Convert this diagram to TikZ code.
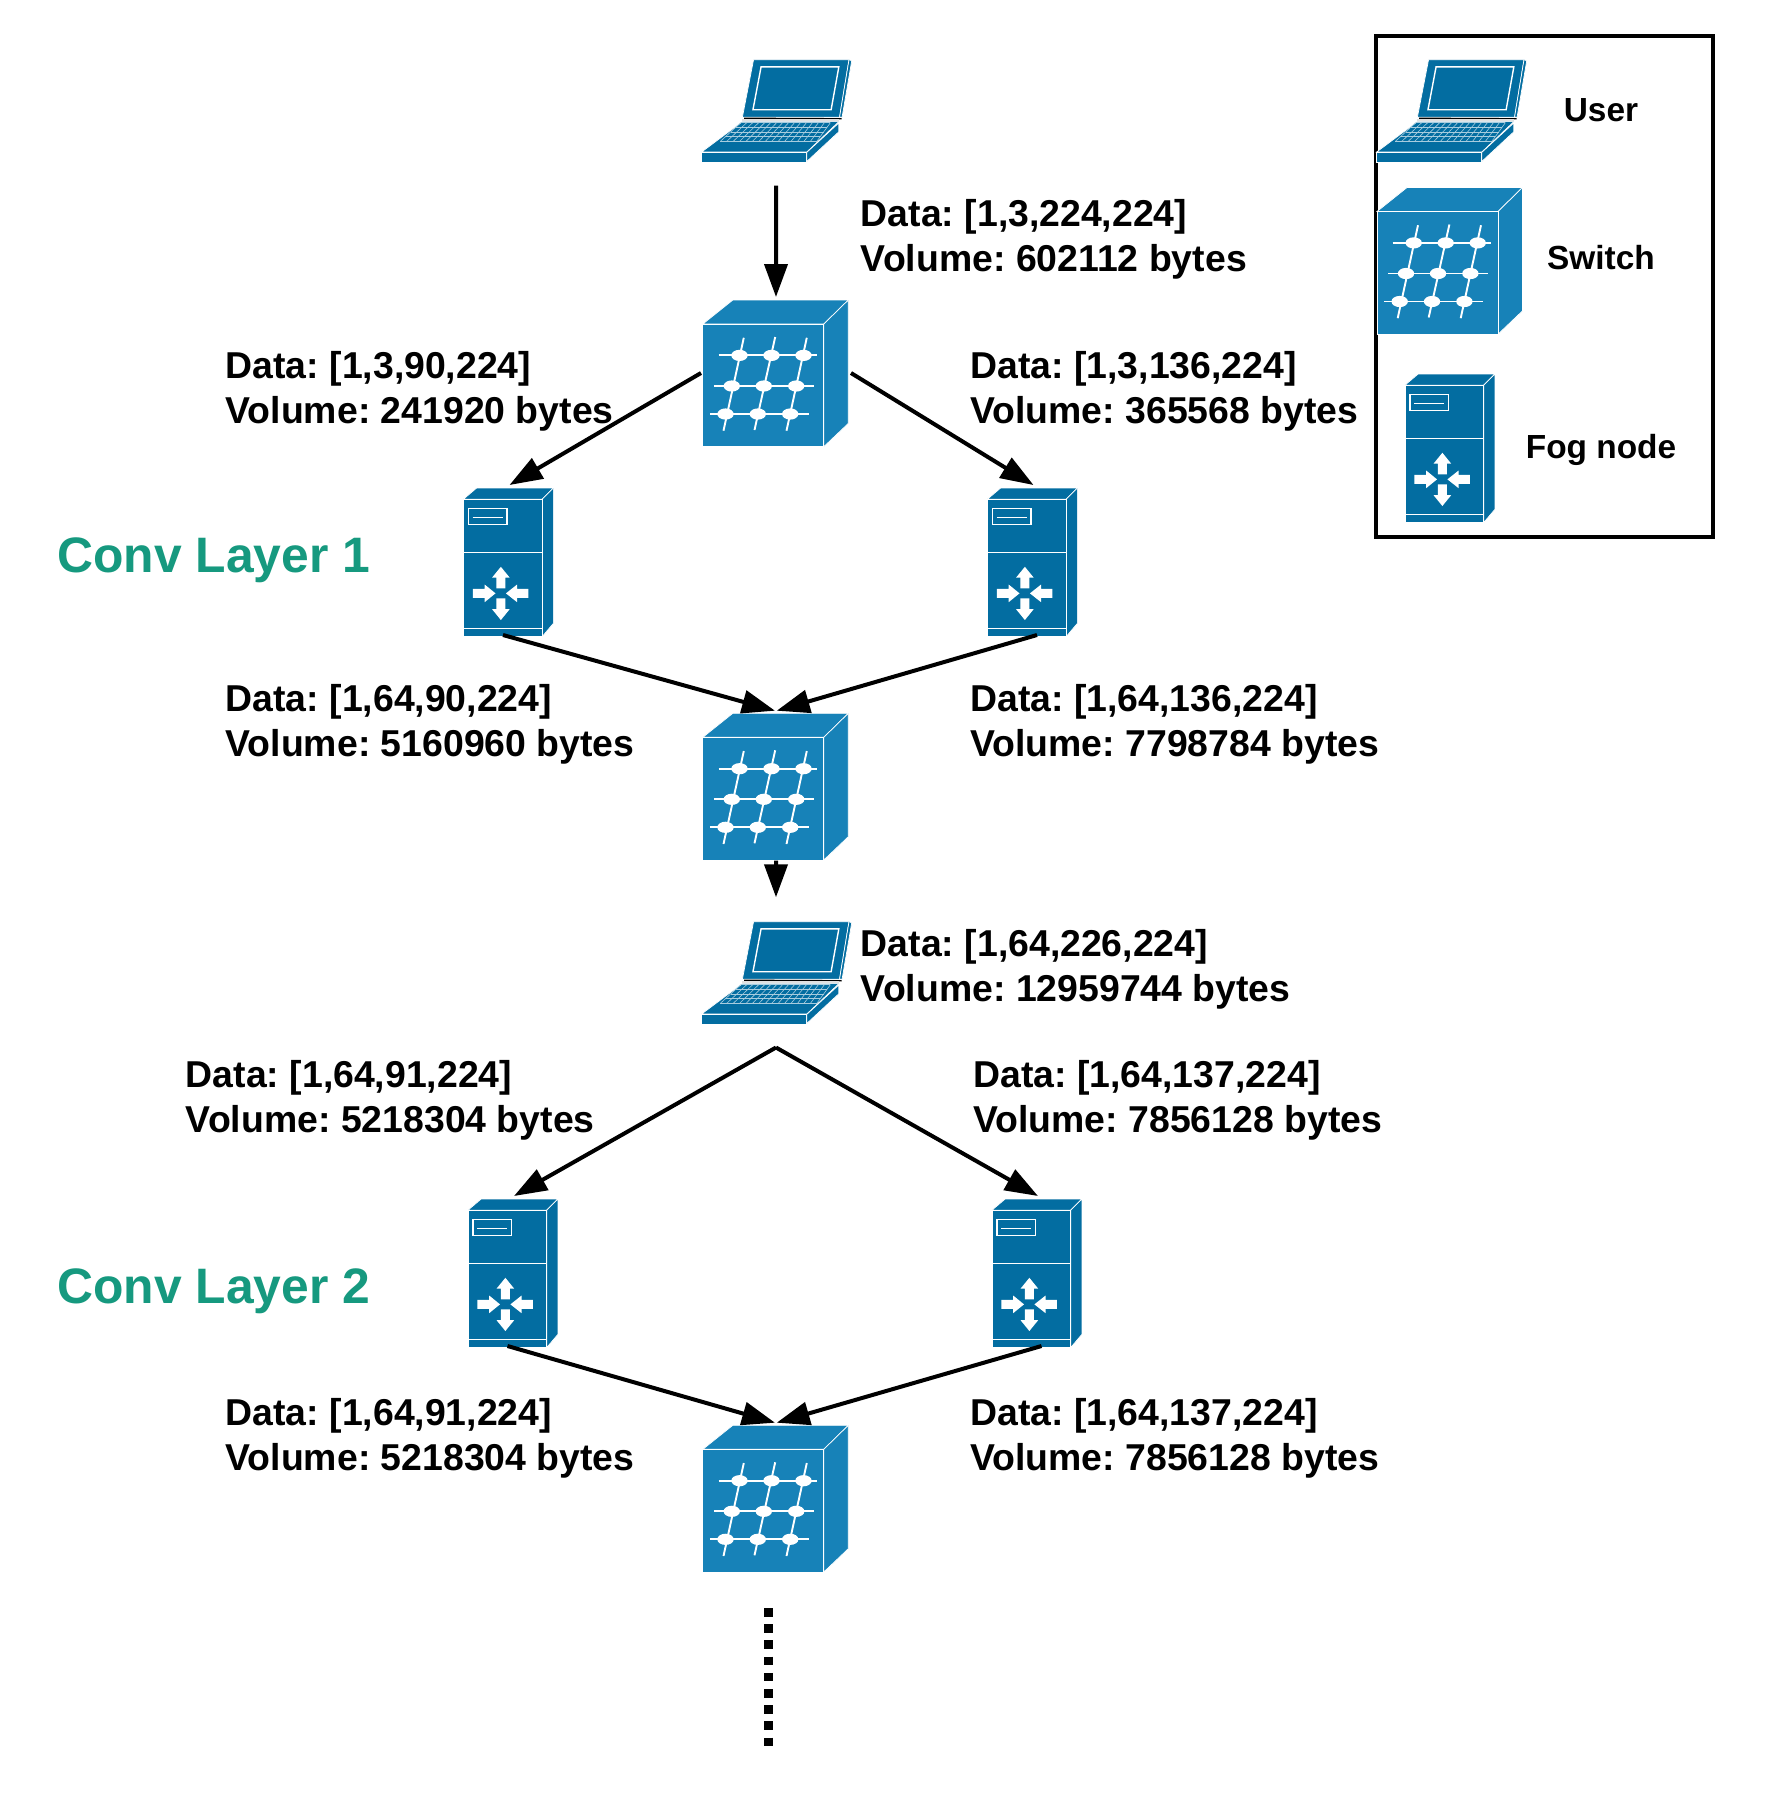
\documentclass[tikz,border=0pt]{standalone}
\usepackage{fontspec}
\setmainfont{Liberation Sans}
\usetikzlibrary{arrows.meta}
\definecolor{fogblue}{HTML}{036DA1}
\definecolor{swblue}{HTML}{1782B8}
\definecolor{layergreen}{HTML}{16997F}
\tikzset{
  x=0.5pt,y=-0.5pt,
  iconfog/.style={fill=fogblue,draw=white,line width=0.35pt,line join=miter},
  iconsw/.style={fill=swblue,draw=white,line width=0.35pt,line join=miter},
  whiteline/.style={draw=white,line width=0.7pt},
  gridline/.style={draw=white,line width=0.95pt},
  conn/.style={draw=black,line width=2pt,-{Triangle[length=16.5pt,width=11.5pt]}},
  infotext/.style={anchor=west,align=left,inner sep=0pt,font=\frenchspacing\fontsize{18.7}{22.5}\selectfont\bfseries},
  legendtext/.style={anchor=center,inner sep=0pt,font=\fontsize{16.7}{20}\selectfont\bfseries},
  layertext/.style={anchor=west,inner sep=0pt,text=layergreen,font=\fontsize{24.9}{30}\selectfont\bfseries},
  laptopicon/.pic={
    \begin{scope}[scale=1.015]
    \path[iconfog] (51.3,0.7)--(145.3,0.7)--(136,57.3)--(40.3,57.3)--cycle;
    \path[iconfog] (145.3,0.7)--(148,1.7)--(138.5,57.3)--(136,57.3)--cycle;
    \draw[white,line width=0.7pt] (58.7,7.7)--(135.3,7.7)--(127.7,50)--(50.7,50)--cycle;
    \draw[black,line width=0.7pt] (42,58.4)--(138,58.9);
    \fill[black!12] (40.3,59.5) rectangle (135.3,61.7);
    \path[iconfog] (40.3,61.7)--(135.3,61.7)--(103.7,91.7)--(0,91.7)--cycle;
    \path[iconfog] (0,92.2)--(103,92.2)--(103,101.7)--(0,101.7)--cycle;
    \path[iconfog] (103.7,92)--(135.3,63)--(135.3,71.7)--(130.3,76.3)--(103.7,101)--cycle;
    \foreach \r in {0,0.25,0.5,0.75,1}
      \draw[white!65!fogblue,line width=0.3pt] ({38.7-20*\r},{62.7+18.3*\r})--({127-13.3*\r},{62.7+18.3*\r});
    \foreach \c in {0,...,15}
      \draw[white!65!fogblue,line width=0.3pt] ({38.7+88.3*\c/15},62.7)--({18.7+95*\c/15},81);
    \end{scope}
    \coordinate (-s) at (74.5,126.5);
    \coordinate (-n) at (74.5,-23.7);
  },
  switchicon/.pic={
    \path[iconsw] (0,24)--(30,0)--(145.5,0)--(121,24)--cycle;
    \path[iconsw] (121,24)--(145.5,0)--(145.5,123.4)--(121,146.7)--cycle;
    \path[iconsw] (0,24) rectangle (121,146.7);
    \foreach \a/\b/\c in {15.7/114.4/55.4,11/110.7/86,7/105.7/114}
      \draw[gridline] (\a,\c)--(\b,\c);
    \foreach \a/\b/\c/\d in {41/37.7/20.7/130.7,72.4/37/51.7/130,104/37.7/83.7/130.7}
      \draw[gridline] (\a,\b)--(\c,\d);
    \foreach \a/\c in {36.7/55.4,68.7/55.4,100.7/55.4,29/86,61/86,93.4/86,22.7/114,55/114,87.4/114}
      \fill[white] (\a,\c) ellipse [x radius=8.2,y radius=5.6];
    \coordinate (-n) at (73.2,-3);
    \coordinate (-nl) at (72.2,-2.6);
    \coordinate (-nr) at (73.9,-2.6);
    \coordinate (-w) at (-1.8,73);
    \coordinate (-e) at (148.2,73);
    \coordinate (-s) at (73.2,147.4);
  },
  fogicon/.pic={
    \begin{scope}[scale=1.01]
    \path[iconfog] (0,11)--(13,0)--(89,0)--(78,11)--cycle;
    \path[iconfog] (78,11)--(89,0)--(89,134)--(78,147)--cycle;
    \path[iconfog] (0,11) rectangle (78,147);
    \draw[whiteline] (0,64)--(78,64);
    \draw[whiteline] (0,139)--(78,139);
    \draw[whiteline] (5,20) rectangle (43,36);
    \draw[whiteline] (9,29)--(39,29);
    \fill[white] (37,78)--(45.7,88.7)--(41.5,88.7)--(41.5,99.3)--(32.5,99.3)--(32.5,88.7)--(28.3,88.7)--cycle;
    \fill[white] (37,130.7)--(45.7,120)--(41.5,120)--(41.5,109.3)--(32.5,109.3)--(32.5,120)--(28.3,120)--cycle;
    \fill[white] (31.7,104.3)--(21,95.6)--(21,99.8)--(9.3,99.8)--(9.3,108.8)--(21,108.8)--(21,113)--cycle;
    \fill[white] (42,104.3)--(53,95.6)--(53,99.8)--(64.3,99.8)--(64.3,108.8)--(53,108.8)--(53,113)--cycle;
    \end{scope}
    \coordinate (-n) at (46,-3);
    \coordinate (-sl) at (39.5,147);
    \coordinate (-sr) at (49.5,147);
  },
}
\begin{document}
\begin{tikzpicture}
\path[use as bounding box,fill=white] (0,0) rectangle (1776,1806);
% legend frame
\node[draw=black,line width=1.75pt,minimum width=168.5pt,minimum height=250.5pt,inner sep=0pt,anchor=north west,outer sep=0pt] (legend) at (1376,36) {};
% helper coordinates
\coordinate (dotstart) at (768,1608);
\coordinate (dotend) at (768,1747);
% icons
\pic (u1) at (701.5,59) {laptopicon};
\pic (s1) at (702.8,300) {switchicon};
\pic (f1) at (463.5,488) {fogicon};
\pic (f2) at (987.5,488) {fogicon};
\pic (s2) at (702.8,713.3) {switchicon};
\pic (u2) at (701.5,921) {laptopicon};
\pic (f3) at (468,1199) {fogicon};
\pic (f4) at (992,1199) {fogicon};
\pic (s3) at (702.8,1425.3) {switchicon};
\pic (lu) at (1376.5,59) {laptopicon};
\pic (ls) at (1377,187.5) {switchicon};
\pic (lf) at (1405,374) {fogicon};
% connectors
\draw[conn] (u1-s)--(s1-n);
\draw[conn] (s1-w)--(f1-n);
\draw[conn] (s1-e)--(f2-n);
\draw[conn] (f1-sl)--(s2-nl);
\draw[conn] (f2-sr)--(s2-nr);
\draw[conn] (s2-s)--(u2-n);
\draw[conn] (u2-s)--(f3-n);
\draw[conn] (u2-s)--(f4-n);
\draw[conn] (f3-sl)--(s3-nl);
\draw[conn] (f4-sr)--(s3-nr);
\draw[draw=black,line width=4.5pt,dash pattern=on 4.25pt off 3.85pt] (dotstart)--(dotend);
% labels
\node[infotext] (t1) at (860.5,239) {Data: [1,3,224,224]\\Volume: 602112 bytes};
\node[infotext] (t2) at (225.3,391) {Data: [1,3,90,224]\\Volume: 241920 bytes};
\node[infotext] (t3) at (970,391) {Data: [1,3,136,224]\\Volume: 365568 bytes};
\node[infotext] (t4) at (225.3,724) {Data: [1,64,90,224]\\Volume: 5160960 bytes};
\node[infotext] (t5) at (970,724) {Data: [1,64,136,224]\\Volume: 7798784 bytes};
\node[infotext] (t6) at (860.5,969.6) {Data: [1,64,226,224]\\Volume: 12959744 bytes};
\node[infotext] (t7) at (185.5,1100.6) {Data: [1,64,91,224]\\Volume: 5218304 bytes};
\node[infotext] (t8) at (973,1100.6) {Data: [1,64,137,224]\\Volume: 7856128 bytes};
\node[infotext] (t9) at (225.3,1438.5) {Data: [1,64,91,224]\\Volume: 5218304 bytes};
\node[infotext] (t10) at (970,1438.5) {Data: [1,64,137,224]\\Volume: 7856128 bytes};
\node[layertext] (c1) at (57,560) {Conv Layer 1};
\node[layertext] (c2) at (57,1291) {Conv Layer 2};
\node[legendtext] (l1) at (1601,110) {User};
\node[legendtext] (l2) at (1601,258) {Switch};
\node[legendtext] (l3) at (1601,449.5) {Fog node};
\end{tikzpicture}
\end{document}
